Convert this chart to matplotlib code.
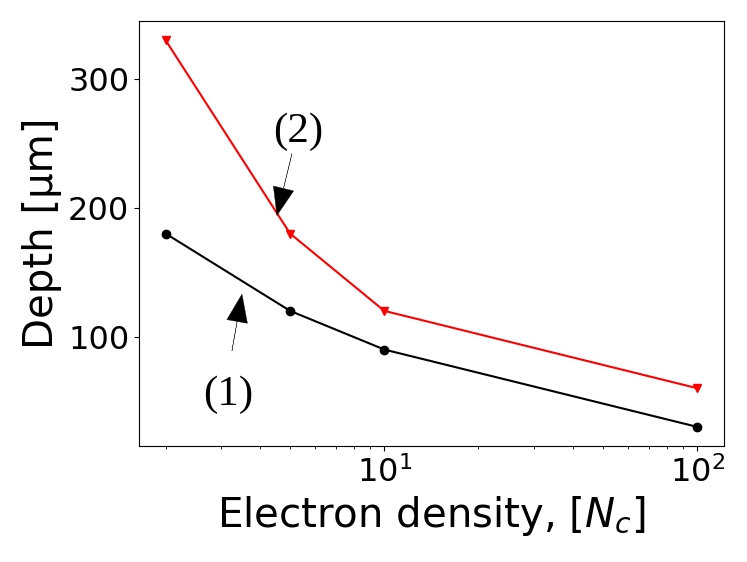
import matplotlib
matplotlib.use('Agg')
import matplotlib.pyplot as plt

# Data
density = [2, 5, 10, 100]
depth_1 = [180, 120, 90, 30]
depth_2 = [330, 180, 120, 60]
yticks = [100, 200, 300]

fig = plt.figure(figsize=(7.47, 5.62), dpi=100)
ax = fig.add_axes([0.186, 0.206, 0.783, 0.757])

ax.plot(density, depth_1, color='black', marker='o')
ax.plot(density, depth_2, color='red', marker='v')
ax.set_xscale('log')
ax.set_yticks(yticks)

arrow = dict(facecolor='black', edgecolor='black', width=0.05,
             headwidth=15, headlength=20, shrink=0.0, lw=0.25)
serif = dict(family=['Liberation Serif', 'DejaVu Serif'], fontsize=31,
             ha='center', va='center')

# Labels for the curves
ax.annotate('', xy=(4.54, 194), xytext=(5.07, 242), arrowprops=arrow)
ax.text(5.29, 259, '(2)', **serif)
ax.annotate('', xy=(3.51, 133), xytext=(3.26, 89), arrowprops=arrow)
ax.text(3.18, 55, '(1)', **serif)

ax.set_xlabel('Electron density, [$N_c$]', fontsize=29)
ax.set_ylabel('Depth [µm]', fontsize=29)
ax.tick_params(labelsize=23)

fig.savefig('out.png', dpi=100)
